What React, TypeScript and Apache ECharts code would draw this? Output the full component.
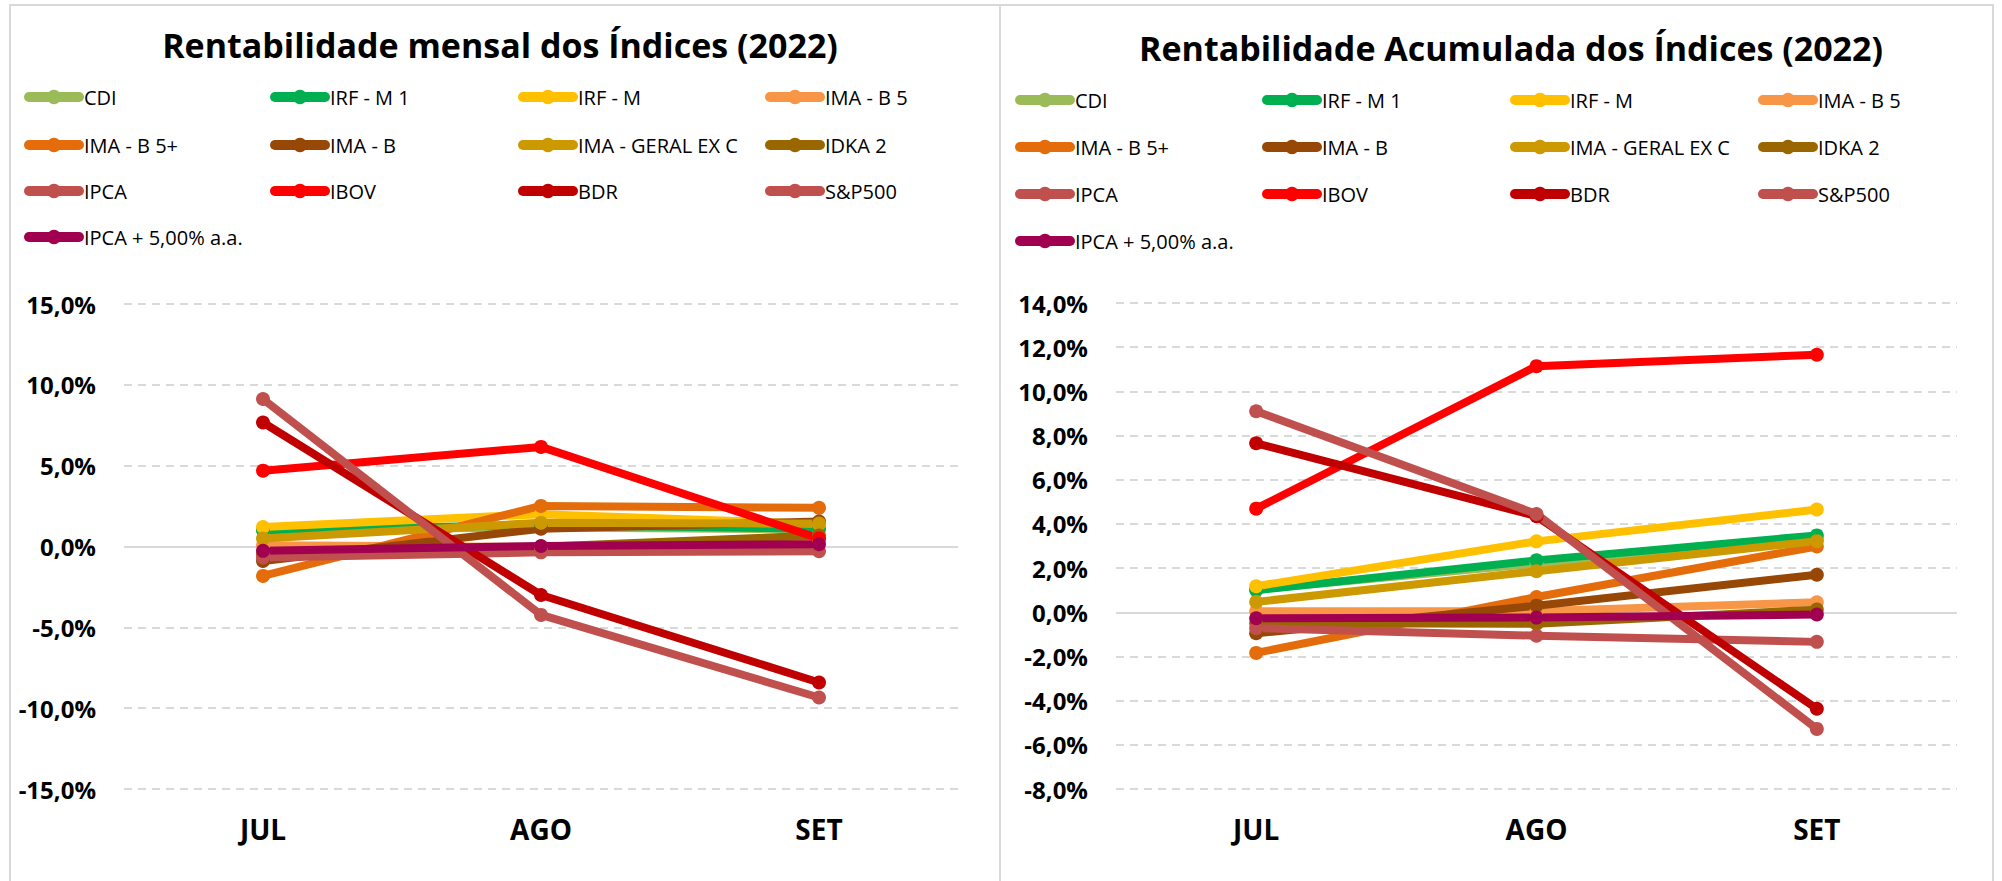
import React, { useEffect, useRef } from "react";
import * as echarts from "echarts";

const months = ["JUL", "AGO", "SET"];

const seriesNames = [
  "CDI",
  "IRF - M 1",
  "IRF - M",
  "IMA - B 5",
  "IMA - B 5+",
  "IMA - B",
  "IMA - GERAL EX C",
  "IDKA 2",
  "IPCA",
  "IBOV",
  "BDR",
  "S&P500",
  "IPCA + 5,00% a.a.",
];

const seriesColors = [
  "#9BBB59",
  "#00B050",
  "#FFC000",
  "#F79646",
  "#E46C0A",
  "#974706",
  "#CC9900",
  "#996600",
  "#C0504D",
  "#FF0000",
  "#C00000",
  "#C0504D",
  "#A0004F",
];

// Rentabilidade mensal (%)
const cdiMensal = [1.03, 1.17, 1.07];
const irfm1Mensal = [1.0, 1.33, 1.1];
const irfmMensal = [1.2, 2.0, 1.4];
const imab5Mensal = [0.08, -0.03, 0.4];
const imab5pMensal = [-1.82, 2.51, 2.39];
const imabMensal = [-0.9, 1.1, 1.55];
const imaGeralMensal = [0.5, 1.47, 1.42];
const idka2Mensal = [-0.5, -0.02, 0.68];
const ipcaMensal = [-0.68, -0.36, -0.29];
const ibovMensal = [4.69, 6.16, 0.5];
const bdrMensal = [7.67, -3.0, -8.41];
const spMensal = [9.12, -4.23, -9.34];
const ipca5Mensal = [-0.27, 0.03, 0.14];

// Rentabilidade acumulada (%)
const cdiAcum = [1.03, 2.21, 3.3];
const irfm1Acum = [1.0, 2.35, 3.48];
const irfmAcum = [1.18, 3.21, 4.65];
const imab5Acum = [0.05, 0.05, 0.45];
const imab5pAcum = [-1.84, 0.69, 2.98];
const imabAcum = [-0.95, 0.3, 1.7];
const imaGeralAcum = [0.47, 1.86, 3.22];
const idka2Acum = [-0.5, -0.52, 0.12];
const ipcaAcum = [-0.72, -1.06, -1.34];
const ibovAcum = [4.69, 11.14, 11.66];
const bdrAcum = [7.65, 4.35, -4.37];
const spAcum = [9.1, 4.45, -5.28];
const ipca5Acum = [-0.27, -0.24, -0.1];

const mensalData = [
  cdiMensal, irfm1Mensal, irfmMensal, imab5Mensal, imab5pMensal, imabMensal,
  imaGeralMensal, idka2Mensal, ipcaMensal, ibovMensal, bdrMensal, spMensal, ipca5Mensal,
];
const acumData = [
  cdiAcum, irfm1Acum, irfmAcum, imab5Acum, imab5pAcum, imabAcum,
  imaGeralAcum, idka2Acum, ipcaAcum, ibovAcum, bdrAcum, spAcum, ipca5Acum,
];

const titles = [
  "Rentabilidade mensal dos Índices (2022)",
  "Rentabilidade Acumulada dos Índices (2022)",
];

const FONT = "'Open Sans', 'Noto Sans', sans-serif";

const fmtPct = (v: number) => v.toFixed(1).replace(".", ",") + "%";

export default function App() {
  const ref = useRef<HTMLDivElement>(null);

  useEffect(() => {
    if (!ref.current) return;
    const chart = echarts.init(ref.current, undefined, { renderer: "svg" });

    const legendCols = [
      [19, 265, 513, 760],
      [1010, 1257, 1505, 1753],
    ];
    const legendRows = [
      [99, 147, 193, 239],
      [102, 149, 196, 243],
    ];
    const legends: any[] = [];
    for (let c = 0; c < 2; c++) {
      seriesNames.forEach((n, i) => {
        legends.push({
          data: [n],
          left: legendCols[c][i % 4] + 5,
          top: legendRows[c][Math.floor(i / 4)] - 12,
          padding: 0,
          itemWidth: 50,
          itemHeight: 18,
          itemGap: 0,
          selectedMode: false,
          lineStyle: { width: 10, cap: "round" },
          textStyle: { fontFamily: FONT, fontSize: 20, color: "#000" },
        });
      });
    }

    const series: any[] = [];
    [mensalData, acumData].forEach((dataSet, c) => {
      seriesNames.forEach((n, i) => {
        const s: any = {
          type: "line",
          name: n,
          xAxisIndex: c,
          yAxisIndex: c,
          data: dataSet[i],
          z: 10,
          symbol: "circle",
          symbolSize: 14,
          color: seriesColors[i],
          itemStyle: { color: seriesColors[i] },
          lineStyle: { width: 8, color: seriesColors[i], cap: "round", join: "round" },
        };
        if (i === 0) {
          s.markLine = {
            silent: true,
            symbol: "none",
            z: 3,
            label: { show: false },
            lineStyle: { color: "#D9D9D9", type: "solid", width: 2 },
            data: [{ yAxis: 0 }],
          };
        }
        series.push(s);
      });
    });

    const yAxisBase = {
      type: "value",
      axisLine: { show: false },
      axisTick: { show: false },
      splitLine: { lineStyle: { color: "#D9D9D9", type: [8, 6], width: 2 } },
      axisLabel: {
        margin: 28,
        fontFamily: FONT,
        fontWeight: "bold",
        fontSize: 24,
        color: "#000",
        formatter: fmtPct,
      },
    };
    const xAxisBase = {
      type: "category",
      data: months,
      boundaryGap: true,
      axisLine: { show: false, onZero: false },
      axisTick: { show: false },
      splitLine: { show: false },
      axisLabel: {
        margin: 26,
        fontFamily: FONT,
        fontWeight: "bold",
        fontSize: 28,
        color: "#000",
      },
    };

    chart.setOption({
      animation: false,
      backgroundColor: "#fff",
      grid: [
        { left: 124, right: 1044, top: 304, bottom: 92 },
        { left: 1116, right: 45, top: 303, bottom: 92 },
      ],
      xAxis: [
        { ...xAxisBase, gridIndex: 0 },
        { ...xAxisBase, gridIndex: 1 },
      ],
      yAxis: [
        { ...yAxisBase, gridIndex: 0, min: -15, max: 15, interval: 5 },
        { ...yAxisBase, gridIndex: 1, min: -8, max: 14, interval: 2 },
      ],
      legend: legends,
      graphic: [
        {
          type: "rect",
          shape: { x: 10, y: 5, width: 990, height: 900 },
          style: { fill: "none", stroke: "#D9D9D9", lineWidth: 2 },
          silent: true,
          z: 0,
        },
        {
          type: "rect",
          shape: { x: 1000, y: 5, width: 993, height: 900 },
          style: { fill: "none", stroke: "#D9D9D9", lineWidth: 2 },
          silent: true,
          z: 0,
        },
        {
          type: "text",
          x: 500,
          y: 45,
          style: {
            text: titles[0],
            fontFamily: FONT,
            fontWeight: "bold",
            fontSize: 34,
            fill: "#000",
            textAlign: "center",
            textVerticalAlign: "middle",
          },
        },
        {
          type: "text",
          x: 1511,
          y: 48,
          style: {
            text: titles[1],
            fontFamily: FONT,
            fontWeight: "bold",
            fontSize: 34,
            fill: "#000",
            textAlign: "center",
            textVerticalAlign: "middle",
          },
        },
      ],
      series,
    });

    return () => chart.dispose();
  }, []);

  return (
    <div
      ref={ref}
      style={{ position: "fixed", left: 0, top: 0, width: 2002, height: 881, background: "#fff" }}
    />
  );
}
